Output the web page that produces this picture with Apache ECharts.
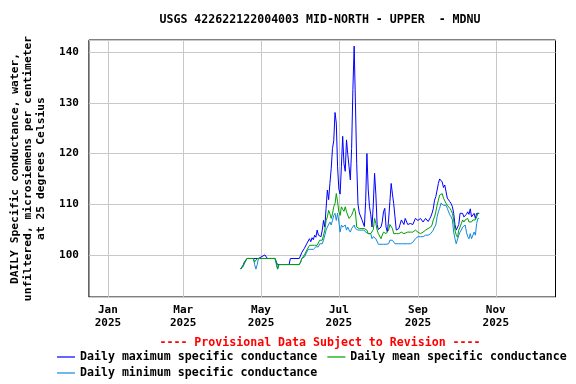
<!DOCTYPE html>
<html>
<head>
<meta charset="utf-8">
<script src="https://cdn.jsdelivr.net/npm/echarts@6/dist/echarts.min.js"></script>
<style>
html,body{margin:0;padding:0;background:#fff;}
#chart{width:576px;height:384px;}
</style>
</head>
<body>
<div id="chart"></div>
<script>
const titleText = 'USGS 422622122004003 MID-NORTH - UPPER  - MDNU';
const yAxisTitle = 'DAILY Specific conductance, water,\nunfiltered, microsiemens per centimeter\nat 25 degrees Celsius';
const provisionalText = '---- Provisional Data Subject to Revision ----';
const seriesNames = ['Daily maximum specific conductance', 'Daily mean specific conductance', 'Daily minimum specific conductance'];

const tickDates = ['2025-01-01', '2025-03-01', '2025-05-01', '2025-07-01', '2025-09-01', '2025-11-01'];
const tickLabels = ['Jan\n2025', 'Mar\n2025', 'May\n2025', 'Jul\n2025', 'Sep\n2025', 'Nov\n2025'];

const dates = [
  '2025-04-15','2025-04-17','2025-04-18','2025-04-20','2025-04-25','2025-04-26','2025-04-27','2025-04-28','2025-04-29',
  '2025-05-04','2025-05-05','2025-05-06','2025-05-12','2025-05-13','2025-05-14','2025-05-15','2025-05-23','2025-05-24','2025-05-31',
  '2025-06-01','2025-06-02','2025-06-04','2025-06-06','2025-06-07','2025-06-08','2025-06-09','2025-06-10','2025-06-11','2025-06-12',
  '2025-06-13','2025-06-14','2025-06-15','2025-06-16','2025-06-17','2025-06-18','2025-06-19','2025-06-20','2025-06-21','2025-06-22',
  '2025-06-23','2025-06-24','2025-06-25','2025-06-26','2025-06-27','2025-06-28','2025-06-29','2025-06-30',
  '2025-07-01','2025-07-02','2025-07-03','2025-07-04','2025-07-05','2025-07-06','2025-07-07','2025-07-08','2025-07-09','2025-07-10',
  '2025-07-11','2025-07-12','2025-07-13','2025-07-14','2025-07-15','2025-07-16','2025-07-17','2025-07-19','2025-07-21','2025-07-22',
  '2025-07-23','2025-07-24','2025-07-25','2025-07-26','2025-07-27','2025-07-28','2025-07-29','2025-07-30','2025-07-31',
  '2025-08-01','2025-08-03','2025-08-04','2025-08-05','2025-08-06','2025-08-07','2025-08-08','2025-08-09','2025-08-10','2025-08-11',
  '2025-08-12','2025-08-13','2025-08-14','2025-08-15','2025-08-17','2025-08-19','2025-08-21','2025-08-22','2025-08-24','2025-08-26',
  '2025-08-28','2025-08-30',
  '2025-09-01','2025-09-03','2025-09-05','2025-09-07','2025-09-09','2025-09-11','2025-09-12','2025-09-13','2025-09-14','2025-09-15',
  '2025-09-16','2025-09-17','2025-09-18','2025-09-19','2025-09-20','2025-09-21','2025-09-22','2025-09-23','2025-09-24','2025-09-25',
  '2025-09-26','2025-09-27','2025-09-28','2025-09-29','2025-09-30',
  '2025-10-01','2025-10-02','2025-10-03','2025-10-04','2025-10-05','2025-10-06','2025-10-07','2025-10-08','2025-10-09','2025-10-10',
  '2025-10-11','2025-10-12','2025-10-13','2025-10-14','2025-10-15','2025-10-16','2025-10-17','2025-10-18','2025-10-19'
];

const maxValues = [
  97.2, 98.0, 98.6, 99.3, 99.3, 99.3, 99.3, 99.3, 99.3,
  100.0, 100.0, 99.3, 99.3, 98.6, 98.1, 98.1, 98.1, 99.3, 99.3,
  99.3, 100.5, 101.3, 102.3, 102.6, 103.2, 102.6, 103.4, 103.0, 103.9,
  103.5, 104.9, 103.9, 103.6, 103.6, 104.9, 106.8, 105.5, 109.2, 112.8,
  110.9, 114.1, 117.0, 121.0, 122.5, 128.1, 126.0, 117.4,
  113.0, 112.0, 117.5, 123.4, 118.0, 116.5, 122.7, 119.8, 117.4, 114.8,
  121.0, 132.6, 141.2, 130.0, 118.0, 110.0, 108.3, 107.0, 105.6, 110.5,
  120.0, 113.0, 109.5, 108.0, 105.5, 110.0, 116.1, 112.0, 106.0,
  105.0, 105.5, 106.5, 108.5, 109.2, 105.5, 104.5, 106.9, 110.5, 114.1,
  112.0, 110.1, 107.5, 104.9, 105.2, 106.9, 106.0, 107.2, 106.0, 106.2,
  106.0, 107.2,
  106.8, 107.2, 106.5, 107.2, 106.6, 107.5, 108.2, 109.1, 110.8, 111.5,
  112.8, 114.1, 115.0, 115.1, 114.4, 113.3, 113.8, 112.5, 111.2, 111.5,
  110.5, 110.1, 109.5, 108.2, 106.0,
  104.9, 104.9, 106.0, 108.2, 108.0, 108.2, 107.5, 107.2, 108.0, 108.5,
  108.0, 109.1, 107.5, 107.2, 108.2, 107.2, 108.2, 108.2, 108.2
];

const meanValues = [
  97.2, 97.8, 98.5, 99.3, 99.3, 98.6, 98.5, 99.3, 99.3,
  99.3, 99.3, 99.3, 99.3, 98.5, 97.2, 98.1, 98.1, 98.1, 98.1,
  98.6, 99.3, 100.0, 101.0, 101.1, 101.9, 101.9, 101.9, 101.9, 101.9,
  101.9, 101.9, 101.9, 102.9, 102.9, 102.9, 103.9, 104.9, 106.8, 107.5,
  108.8, 108.1, 107.2, 108.1, 109.5, 110.1, 112.1, 110.5,
  108.5, 107.8, 109.5, 109.0, 108.6, 109.5, 108.5, 108.2, 107.2, 107.5,
  107.8, 108.5, 109.2, 108.5, 105.5, 105.5, 105.2, 105.2, 105.2, 104.9,
  104.9, 104.2, 104.2, 104.2, 104.2, 105.0, 107.2, 106.2, 104.9,
  104.2, 103.2, 103.9, 104.5, 104.2, 104.2, 104.2, 104.9, 106.0, 106.2,
  105.2, 104.2, 104.0, 104.2, 104.2, 104.5, 104.2, 104.5, 104.5, 104.5,
  104.5, 104.9,
  104.5, 104.2, 104.5, 104.9, 105.2, 105.5, 105.9, 106.9, 107.5, 108.5,
  109.8, 110.8, 111.8, 111.5, 112.1, 111.2, 110.9, 110.2, 109.8, 109.5,
  109.2, 108.8, 108.2, 106.9, 104.9,
  103.9, 103.5, 104.9, 105.5, 106.2, 106.9, 106.5, 106.9, 107.2, 107.2,
  106.5, 106.2, 106.5, 106.9, 106.9, 106.9, 107.5, 108.2, 108.2
];

const minValues = [
  97.2, 97.8, 98.3, 99.3, 99.3, 98.1, 97.2, 98.1, 99.3,
  99.3, 99.3, 99.3, 99.3, 98.1, 97.2, 98.1, 98.1, 98.1, 98.1,
  98.6, 99.3, 99.6, 100.6, 101.1, 101.1, 101.1, 101.1, 101.1, 101.1,
  101.6, 101.6, 101.6, 102.2, 102.2, 102.2, 102.9, 102.9, 104.9, 105.5,
  105.5, 106.5, 105.9, 106.8, 107.8, 108.2, 106.8, 108.2,
  106.5, 104.5, 105.9, 105.5, 105.2, 105.9, 104.9, 105.5, 104.9, 104.5,
  105.2, 105.5, 105.9, 105.2, 104.9, 104.9, 104.9, 104.9, 104.9, 104.5,
  104.2, 104.2, 104.2, 104.2, 103.2, 103.6, 103.6, 103.2, 102.9,
  102.1, 102.1, 102.1, 102.1, 102.1, 102.1, 102.1, 102.2, 102.9, 103.2,
  102.9, 103.2, 102.2, 102.2, 102.2, 102.2, 102.2, 102.2, 102.2, 102.2,
  102.5, 103.2,
  103.6, 103.6, 103.6, 103.9, 103.9, 104.2, 104.5, 104.9, 105.5, 105.9,
  107.5, 108.5, 109.2, 110.2, 110.0, 109.8, 109.5, 109.8, 109.2, 108.5,
  107.9, 107.5, 106.9, 104.5, 103.2,
  102.2, 102.2, 103.9, 104.5, 104.9, 105.5, 105.5, 105.9, 104.5, 103.6,
  103.2, 104.2, 103.2, 103.2, 104.5, 103.9, 106.2, 107.2, 107.2
];

const DAY = 86400000;
function toTime(s) {
  const p = s.split('-').map(Number);
  return Date.UTC(p[0], p[1] - 1, p[2]);
}
const tickTimes = tickDates.map(toTime);

const FONT = '"DejaVu Sans Mono", monospace';
const chart = echarts.init(document.getElementById('chart'), null, { renderer: 'canvas' });

function pairs(vals) { return dates.map((d, i) => [toTime(d), vals[i]]); }

const colors = ['#0000ff', '#00a000', '#1188dd'];

chart.setOption({
  animation: false,
  backgroundColor: '#ffffff',
  grid: {
    left: 84.5, right: 20.5, top: 40, bottom: 87,
    show: true, borderColor: '#000', borderWidth: 1, backgroundColor: 'transparent'
  },
  xAxis: {
    type: 'value',
    min: toTime('2024-12-17') + 0.1 * DAY,
    max: toTime('2025-12-17') + 0.8 * DAY,
    axisLine: { show: false },
    axisTick: { show: false, customValues: tickTimes },
    splitLine: { show: true, lineStyle: { color: '#c8c8c8', width: 1 } },
    axisLabel: {
      customValues: tickTimes,
      formatter: function (v) {
        const i = tickTimes.indexOf(v);
        return i >= 0 ? tickLabels[i] : '';
      },
      fontFamily: FONT, fontWeight: 'bold', fontSize: 11, lineHeight: 13,
      color: '#000', margin: 7, hideOverlap: false
    }
  },
  yAxis: {
    type: 'value',
    min: 91.7,
    max: 142.4,
    splitNumber: 5,
    name: yAxisTitle,
    nameLocation: 'middle',
    nameRotate: 90,
    nameGap: 41,
    nameTextStyle: { fontFamily: FONT, fontWeight: 'bold', fontSize: 11.3, lineHeight: 13.3, color: '#000', align: 'center' },
    axisLine: { show: false },
    axisTick: { show: false },
    splitLine: { show: true, lineStyle: { color: '#c8c8c8', width: 1 } },
    axisLabel: {
      showMinLabel: false, showMaxLabel: false,
      formatter: function (v) { return (Math.abs(v % 10) < 1e-6) ? String(v) : ''; },
      fontFamily: FONT, fontWeight: 'bold', fontSize: 11, color: '#000', margin: 10
    }
  },
  legend: [
    {
      data: [seriesNames[0], seriesNames[1]],
      left: 57, top: 351,
      itemWidth: 18, itemHeight: 1.2, itemGap: 10,
      icon: 'rect',
      padding: 0,
      textStyle: { fontFamily: FONT, fontWeight: 'bold', fontSize: 11.6, color: '#000' },
      selectedMode: false
    },
    {
      data: [seriesNames[2]],
      left: 57, top: 367,
      itemWidth: 18, itemHeight: 1.2,
      icon: 'rect',
      padding: 0,
      textStyle: { fontFamily: FONT, fontWeight: 'bold', fontSize: 11.6, color: '#000' },
      selectedMode: false
    }
  ],
  graphic: [
    {
      type: 'text', x: 320, y: 20,
      style: { text: titleText, fill: '#000', font: 'bold 11.6px ' + FONT, align: 'center', verticalAlign: 'middle' }
    },
    {
      type: 'text', x: 320, y: 343,
      style: { text: provisionalText, fill: '#ff0000', font: 'bold 11.6px ' + FONT, align: 'center', verticalAlign: 'middle' }
    }
  ],
  series: [
    {
      name: seriesNames[0], type: 'line', data: pairs(maxValues), symbol: 'none', z: 2,
      lineStyle: { color: colors[0], width: 1 }, itemStyle: { color: colors[0] }
    },
    {
      name: seriesNames[1], type: 'line', data: pairs(meanValues), symbol: 'none', z: 4,
      lineStyle: { color: colors[1], width: 1 }, itemStyle: { color: colors[1] }
    },
    {
      name: seriesNames[2], type: 'line', data: pairs(minValues), symbol: 'none', z: 3,
      lineStyle: { color: colors[2], width: 1 }, itemStyle: { color: colors[2] }
    }
  ]
});
</script>
</body>
</html>
